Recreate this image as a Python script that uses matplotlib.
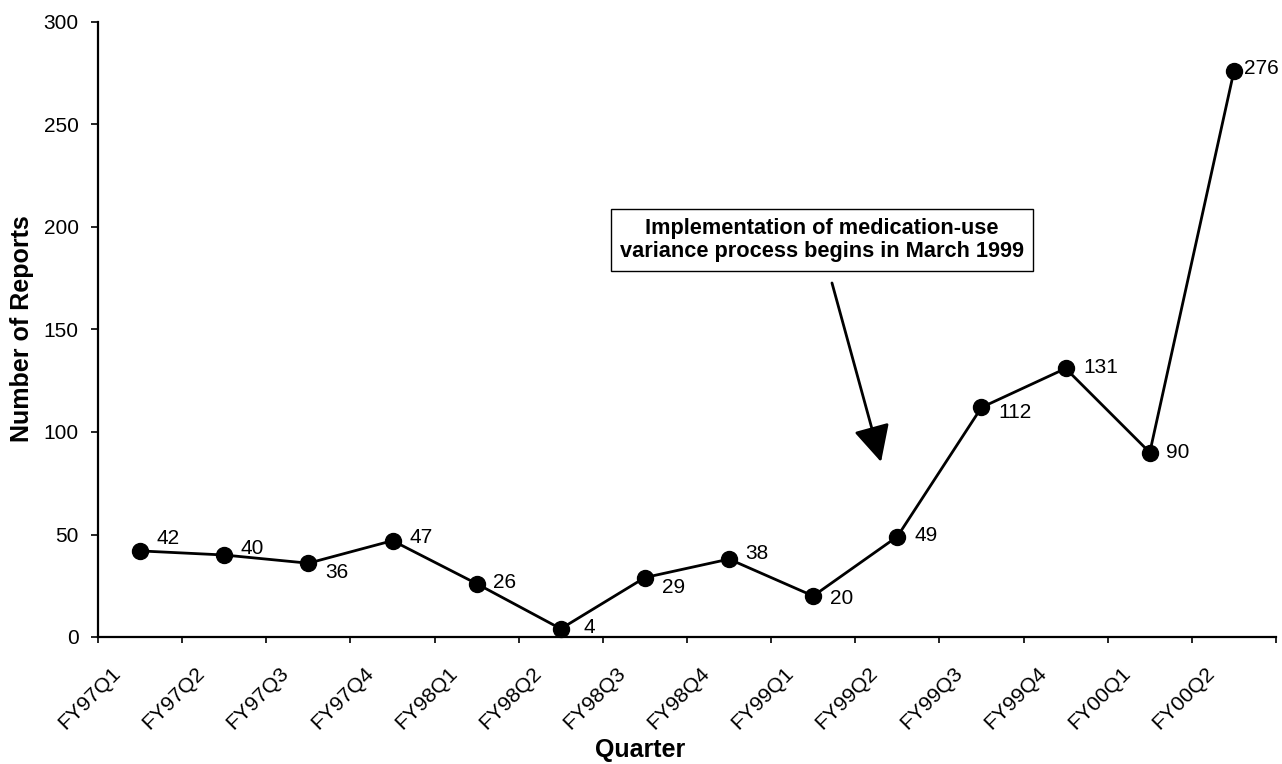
import matplotlib
matplotlib.use("Agg")
import matplotlib.pyplot as plt
from matplotlib.transforms import ScaledTranslation
import numpy as np

plt.rcParams['font.family'] = ['Liberation Sans', 'DejaVu Sans']

quarters = ["FY97Q1", "FY97Q2", "FY97Q3", "FY97Q4", "FY98Q1", "FY98Q2", "FY98Q3",
            "FY98Q4", "FY99Q1", "FY99Q2", "FY99Q3", "FY99Q4", "FY00Q1", "FY00Q2"]
reports = [42, 40, 36, 47, 26, 4, 29, 38, 20, 49, 112, 131, 90, 276]

# label offsets in points (style, not data)
label_dx = [12, 12, 12, 12, 12, 16, 12, 12, 12, 12, 12, 13, 12, 7]
label_dy = [9, 5, -7, 2, 1, 1, -7, 4, -2, 1, -4, 1, 0, 2]

fig = plt.figure(figsize=(12.82, 7.64), dpi=100)
ax = fig.add_axes([98/1282, 1-637/764, (1276-98)/1282, (637-22)/764])

x = np.arange(len(quarters))
ax.plot(x, reports, color='black', linewidth=2.0, marker='o', markersize=11.5,
        markerfacecolor='black', markeredgecolor='black', zorder=3, clip_on=False)

for xi, v, dx, dy in zip(x, reports, label_dx, label_dy):
    ax.annotate(str(v), (xi, v), xytext=(dx, dy), textcoords='offset points',
                ha='left', va='center', fontsize=15, color='black')

ax.set_xlim(-0.5, len(quarters) - 0.5)
ax.set_ylim(0, 300)
ax.set_yticks(np.arange(0, 301, 50))
ax.tick_params(axis='y', labelsize=15, length=5.3, width=1.2, pad=8.5)

ax.set_xticks(np.arange(-0.5, len(quarters), 1.0))
ax.set_xticklabels([])
ax.tick_params(axis='x', which='major', length=4, width=1.2)
ax.set_xticks(x, minor=True)
ax.set_xticklabels(quarters, minor=True, fontsize=15.3)
ax.tick_params(axis='x', which='minor', length=0, pad=0)
off = ScaledTranslation(-16/72, -24/72, fig.dpi_scale_trans)
for lab in ax.get_xticklabels(minor=True):
    lab.set_rotation(45)
    lab.set_rotation_mode('anchor')
    lab.set_ha('right')
    lab.set_va('center')
    lab.set_transform(lab.get_transform() + off)

for s in ['top', 'right']:
    ax.spines[s].set_visible(False)
for s in ['left', 'bottom']:
    ax.spines[s].set_linewidth(1.6)

fig.text(22/1282, 1-329/764, "Number of Reports", rotation=90, ha='center', va='center',
         fontsize=18, fontweight='bold')
fig.text(640/1282, 1-750/764, "Quarter", ha='center', va='center',
         fontsize=18, fontweight='bold')

ax.text(8.105, 193.7, "Implementation of medication-use\nvariance process begins in March 1999",
        ha='center', va='center', fontsize=15.7, fontweight='bold', linespacing=1.15,
        bbox=dict(boxstyle='square,pad=0.4', facecolor='white', edgecolor='black', linewidth=1.0),
        zorder=4)
ax.annotate("", xy=(8.806, 85.4), xytext=(8.223, 172.7),
            arrowprops=dict(arrowstyle='-|>,head_length=1.5,head_width=0.75', mutation_scale=15,
                            color='black', linewidth=2.0, shrinkA=0, shrinkB=0))

fig.savefig("out.png", dpi=100)
